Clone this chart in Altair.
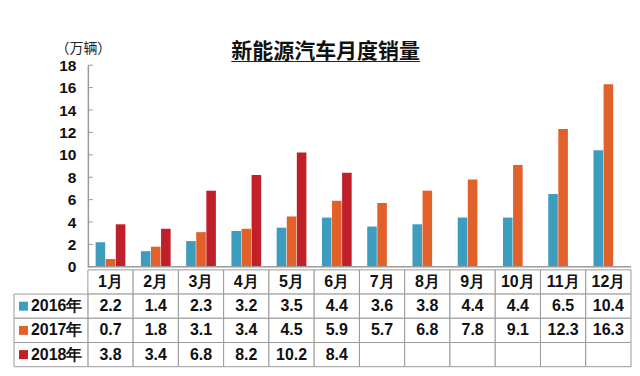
import altair as alt
import pandas as pd

months = ["1月", "2月", "3月", "4月", "5月", "6月", "7月", "8月", "9月", "10月", "11月", "12月"]
years = ["2016年", "2017年", "2018年"]
sales_2016 = [2.2, 1.4, 2.3, 3.2, 3.5, 4.4, 3.6, 3.8, 4.4, 4.4, 6.5, 10.4]
sales_2017 = [0.7, 1.8, 3.1, 3.4, 4.5, 5.9, 5.7, 6.8, 7.8, 9.1, 12.3, 16.3]
sales_2018 = [3.8, 3.4, 6.8, 8.2, 10.2, 8.4]
y_ticks = [0, 2, 4, 6, 8, 10, 12, 14, 16, 18]
colors = ["#3C9DBE", "#E2612B", "#C0202A"]

FONT = "Liberation Sans"
CJK = "Noto Sans CJK SC"
GRID = "#9a9a9a"

series = [sales_2016, sales_2017, sales_2018]
rows = []
for yname, vals in zip(years, series):
    for m, v in zip(months, vals):
        rows.append({"month": m, "year": yname, "value": v})
bars_df = pd.DataFrame(rows)

W, H_TOP, H_TAB = 544, 202, 97
COL_PX = W / 12
LABEL_W = 74 / COL_PX  # label column width in column units

color_scale = alt.Scale(domain=years, range=colors)
y_scale = alt.Scale(domain=[0, 18], nice=False)

y_axis = alt.Axis(values=y_ticks, grid=False, ticks=False, domainColor=GRID,
                  domainWidth=1.5, labelOverlap=False,
                  labelFont=FONT, labelFontSize=15.5, labelFontWeight="bold",
                  labelColor="#111", labelPadding=12,
                  title="（万辆）", titleAngle=0, titleFont=CJK,
                  titleFontSize=14, titleFontWeight="normal", titleColor="#222",
                  titleX=-5, titleY=-10, titleAlign="center", titleBaseline="bottom")

bars = alt.Chart(bars_df).mark_bar().encode(
    x=alt.X("month:N", sort=months,
            scale=alt.Scale(domain=months, paddingInner=0, paddingOuter=0),
            axis=None),
    xOffset=alt.XOffset("year:N", scale=alt.Scale(domain=years, paddingOuter=0.77, paddingInner=0.05)),
    y=alt.Y("value:Q", scale=y_scale, axis=y_axis),
    color=alt.Color("year:N", scale=color_scale, legend=None),
)

ticks_df = pd.DataFrame({"t": y_ticks})
tick_rules = alt.Chart(ticks_df).mark_rule(color=GRID, strokeWidth=1).encode(
    y=alt.Y("t:Q", scale=y_scale, axis=y_axis), x=alt.value(0), x2=alt.value(5)
)
baseline = alt.Chart(pd.DataFrame({"b": [0]})).mark_rule(color=GRID, strokeWidth=1.5).encode(
    y=alt.Y("b:Q", scale=y_scale, axis=y_axis), x=alt.value(0), x2=alt.value(W)
)

top = alt.layer(bars, tick_rules, baseline).properties(width=W, height=H_TOP)

# ---- data table ----
row_names = ["hdr"] + years
cells = []
for i, m in enumerate(months):
    cells.append({"row": "hdr", "x0": i, "x1": i + 1, "xc": i + 0.5, "txt": m})
    for yname, vals in zip(years, series):
        txt = f"{vals[i]:.1f}" if i < len(vals) else ""
        cells.append({"row": yname, "x0": i, "x1": i + 1, "xc": i + 0.5, "txt": txt})
cells_df = pd.DataFrame(cells)

labels_df = pd.DataFrame({"row": years, "x0": [-LABEL_W] * 3, "x1": [0] * 3,
                          "xs": [-LABEL_W + 9.5 / COL_PX] * 3,
                          "xt": [-LABEL_W + 17 / COL_PX] * 3,
                          "year": years})

xq = alt.Scale(domain=[0, 12], nice=False, zero=False)
yb = alt.Scale(domain=row_names, paddingInner=0, paddingOuter=0)

cell_rects = alt.Chart(cells_df).mark_rect(fill="white", stroke=GRID, strokeWidth=1).encode(
    x=alt.X("x0:Q", scale=xq, axis=None), x2="x1:Q",
    y=alt.Y("row:N", scale=yb, axis=None),
)
cell_text = alt.Chart(cells_df).mark_text(font=FONT, fontSize=16, fontWeight="bold",
                                          color="#111").encode(
    x=alt.X("xc:Q", scale=xq, axis=None), y=alt.Y("row:N", scale=yb, axis=None), text="txt:N"
)
label_rects = alt.Chart(labels_df).mark_rect(fill="white", stroke=GRID, strokeWidth=1).encode(
    x=alt.X("x0:Q", scale=xq, axis=None), x2="x1:Q", y=alt.Y("row:N", scale=yb, axis=None)
)
label_squares = alt.Chart(labels_df).mark_point(shape="square", filled=True, size=81,
                                                opacity=1).encode(
    x=alt.X("xs:Q", scale=xq, axis=None), y=alt.Y("row:N", scale=yb, axis=None),
    color=alt.Color("year:N", scale=color_scale, legend=None)
)
label_text = alt.Chart(labels_df).mark_text(font=FONT, fontSize=16, fontWeight="bold",
                                            color="#111", align="left").encode(
    x=alt.X("xt:Q", scale=xq, axis=None), y=alt.Y("row:N", scale=yb, axis=None), text="year:N"
)

table = alt.layer(cell_rects, label_rects, cell_text, label_squares, label_text).properties(
    width=W, height=H_TAB
)

chart = alt.vconcat(top, table, spacing=3, bounds="flush").properties(
    title=alt.TitleParams("新能源汽车月度销量", subtitle="＿＿＿＿＿＿＿＿＿",
                          font=CJK, fontSize=21, fontWeight="bold", color="#111",
                          subtitleFont=CJK, subtitleFontSize=21, subtitleFontWeight="bold",
                          subtitleColor="#222", subtitlePadding=-20,
                          anchor="middle", offset=-22, dx=3),
    padding={"left": 5, "top": 33, "right": 0, "bottom": 0},
).configure_view(stroke=None).configure_axisY(labelOverlap=False).resolve_scale(color="shared")

chart.save("out.html", embed_options={"renderer": "svg", "actions": False})
